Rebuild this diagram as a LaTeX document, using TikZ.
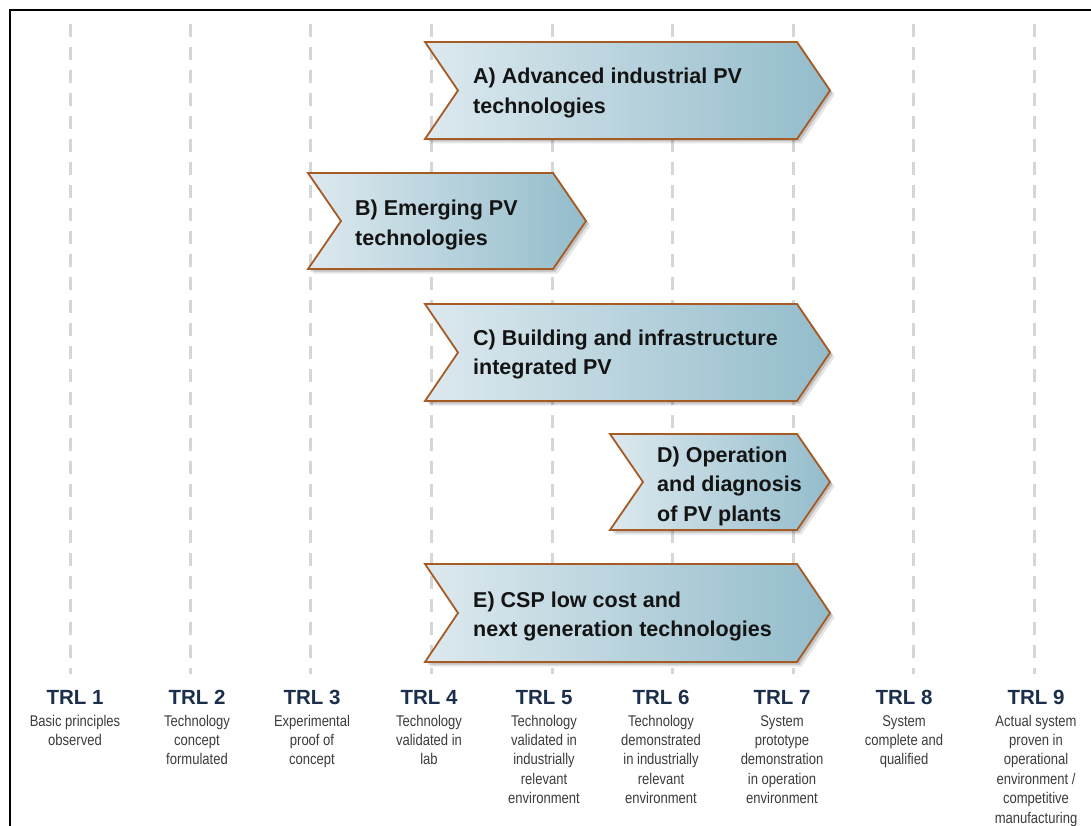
\documentclass[tikz,border=0pt]{standalone}
\usepackage{fontspec}
\setmainfont{Liberation Sans}
\newfontfamily\narrowfont[FakeStretch=0.84]{Liberation Sans}
\definecolor{arrowL}{HTML}{DDE9EF}
\definecolor{arrowR}{HTML}{93BCCB}
\definecolor{arrowEdge}{HTML}{A65A24}
\definecolor{trlBlue}{HTML}{1B2F4B}
\definecolor{descGray}{HTML}{3C3C3C}
\definecolor{gridGray}{HTML}{D6D6D6}
\tikzset{
  gridline/.style={draw=gridGray,line width=3,dash pattern=on 13 off 10},
  chevbox/.style={left color=arrowL,right color=arrowR,draw=arrowEdge,line width=1.8,line join=miter},
  chevshadow/.style={fill=black,opacity=#1},
  chevtext/.style={anchor=base west,align=left,inner sep=0,text=black!92,
    font=\fontsize{21.5}{29.5}\selectfont\bfseries},
  trltitle/.style={anchor=base,inner sep=0,text=trlBlue,font=\fontsize{20.5}{24}\selectfont\bfseries},
  trldesc/.style={anchor=base,align=center,inner sep=0,text=descGray,font=\narrowfont\fontsize{15.5}{19.4}\selectfont},
}
\newcommand\mychev[4]{%
  \foreach \s/\o in {4.5/.10,2.5/.16}{%
    \fill[chevshadow=\o,shift={(\s,\s)}] (#1,#3) -- (#2,#3) -- ({#2+33},{(#3+#4)/2}) -- (#2,#4) -- (#1,#4) -- ({#1+33},{(#3+#4)/2}) -- cycle;}
  \path[chevbox] (#1,#3) -- (#2,#3) -- ({#2+33},{(#3+#4)/2}) -- (#2,#4) -- (#1,#4) -- ({#1+33},{(#3+#4)/2}) -- cycle;
}
\begin{document}
\begin{tikzpicture}[x=1pt,y=-1pt]
\useasboundingbox[fill=white] (0,0) rectangle (1091,826);
% frame
\draw[black,line width=2] (9.5,827) -- (9.5,10.5) -- (1092,10.5);
% grid lines
\foreach \x in {70,190,310,431,552,672,793,913,1034}{
  \draw[gridline] (\x,24) -- (\x,674);
}
% chevrons
\mychev{425}{797}{42}{139}
\mychev{308}{553}{173}{269}
\mychev{425}{797}{304}{401}
\mychev{610}{797}{434}{530}
\mychev{425}{797}{564}{662}
% texts: anchor base = baseline of the last line
\node[chevtext] (tA) at (473,113.5) {A) Advanced industrial PV\\technologies};
\node[chevtext] (tB) at (355,245) {B) Emerging PV\\technologies};
\node[chevtext] (tC) at (473,374.5) {C) Building and infrastructure\\integrated PV};
\node[chevtext] (tD) at (657,521) {D) Operation\\and diagnosis\\of PV plants};
\node[chevtext] (tE) at (473,636.5) {E) CSP low cost and\\next generation technologies};
% TRL columns
\node[trltitle] (t1) at (75,704) {TRL 1};
\node[trltitle] (t2) at (197,704) {TRL 2};
\node[trltitle] (t3) at (312,704) {TRL 3};
\node[trltitle] (t4) at (429,704) {TRL 4};
\node[trltitle] (t5) at (544,704) {TRL 5};
\node[trltitle] (t6) at (661,704) {TRL 6};
\node[trltitle] (t7) at (782,704) {TRL 7};
\node[trltitle] (t8) at (904,704) {TRL 8};
\node[trltitle] (t9) at (1036,704) {TRL 9};
\node[trldesc] (d1) at (75,745.4) {Basic principles\\observed};
\node[trldesc] (d2) at (197,764.8) {Technology\\concept\\formulated};
\node[trldesc] (d3) at (312,764.8) {Experimental\\proof of\\concept};
\node[trldesc] (d4) at (429,764.8) {Technology\\validated in\\lab};
\node[trldesc] (d5) at (544,803.6) {Technology\\validated in\\industrially\\relevant\\environment};
\node[trldesc] (d6) at (661,803.6) {Technology\\demonstrated\\in industrially\\relevant\\environment};
\node[trldesc] (d7) at (782,803.6) {System\\prototype\\demonstration\\in operation\\environment};
\node[trldesc] (d8) at (904,764.8) {System\\complete and\\qualified};
\node[trldesc] (d9) at (1036,823) {Actual system\\proven in\\operational\\environment /\\competitive\\manufacturing};
\end{tikzpicture}
\end{document}
